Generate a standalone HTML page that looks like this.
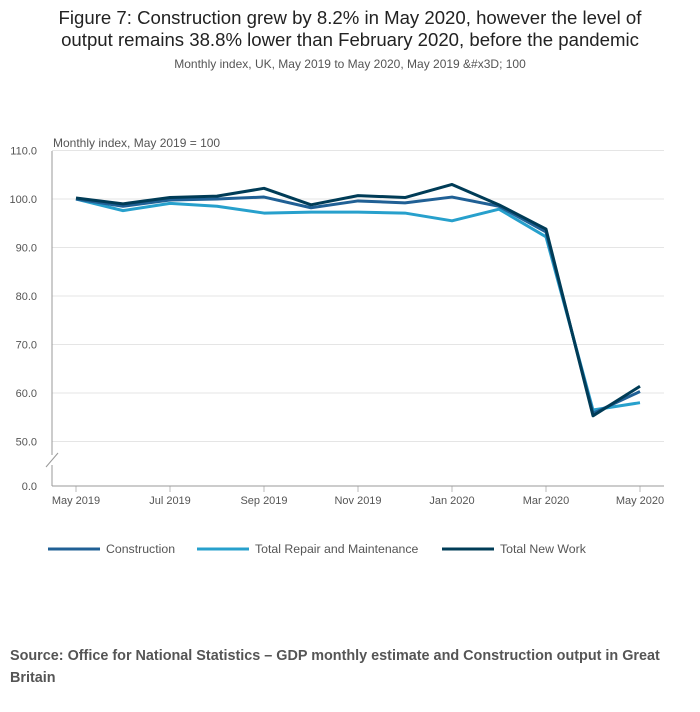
<!DOCTYPE html>
<html><head><meta charset="utf-8">
<style>
body{margin:0;width:700px;height:707px;background:#fff;font-family:"Liberation Sans",sans-serif;overflow:hidden}
</style></head>
<body>
<svg width="700" height="707" xmlns="http://www.w3.org/2000/svg" font-family="Liberation Sans, sans-serif">
<text x="350" y="24" text-anchor="middle" font-size="18.6" fill="#222">Figure 7: Construction grew by 8.2% in May 2020, however the level of</text>
<text x="350" y="46" text-anchor="middle" font-size="18.6" fill="#222">output remains 38.8% lower than February 2020, before the pandemic</text>
<text x="350" y="68" text-anchor="middle" font-size="12" fill="#555">Monthly index, UK, May 2019 to May 2020, May 2019 &amp;#x3D; 100</text>
<text x="53" y="147" font-size="12" fill="#555">Monthly index, May 2019 = 100</text>
<g id="grid"></g>
<g id="lines"></g>
<line x1="52" y1="151" x2="52" y2="486" stroke="#999" stroke-width="1"/>
<rect x="46" y="455" width="12" height="10" fill="#fff"/>
<line x1="46" y1="467" x2="58" y2="453" stroke="#999"/>
<line x1="52" y1="486" x2="664" y2="486" stroke="#999"/>
<g font-size="12.3" fill="#555">
<line x1="48" y1="549" x2="100" y2="549" stroke="#206095" stroke-width="3"/><text x="106" y="553">Construction</text>
<line x1="197" y1="549" x2="249" y2="549" stroke="#27a0cc" stroke-width="3"/><text x="255" y="553">Total Repair and Maintenance</text>
<line x1="442" y1="549" x2="494" y2="549" stroke="#003c57" stroke-width="3"/><text x="500" y="553">Total New Work</text>
</g>
<text x="10" y="660" font-size="14.4" font-weight="bold" fill="#555">Source: Office for National Statistics – GDP monthly estimate and Construction output in Great</text>
<text x="10" y="682" font-size="14.4" font-weight="bold" fill="#555">Britain</text>
</svg>
<script>
const months=["May 2019","Jun","Jul 2019","Aug","Sep 2019","Oct","Nov 2019","Dec","Jan 2020","Feb","Mar 2020","Apr","May 2020"];
const xTickLabels=["May 2019","","Jul 2019","","Sep 2019","","Nov 2019","","Jan 2020","","Mar 2020","","May 2020"];
const yTicks=[50,60,70,80,90,100,110];
const construction=[100,98.5,99.8,100,100.4,98.2,99.6,99.2,100.4,98.5,93.2,55.8,60.3];
const repair=[100,97.6,99.1,98.5,97.1,97.3,97.3,97.1,95.5,97.9,92.2,56.5,58];
const newWork=[100.2,99,100.3,100.6,102.2,98.8,100.7,100.3,103,98.8,93.8,55.3,61.4];
const NS="http://www.w3.org/2000/svg";
const x=i=>76+i*47;
const y=v=>199-(v-100)*4.85;
const grid=document.getElementById('grid'),lines=document.getElementById('lines');
function mk(t,a,p){const e=document.createElementNS(NS,t);for(const k in a)e.setAttribute(k,a[k]);p.appendChild(e);return e;}
yTicks.forEach(v=>{
 const l=mk('line',{x1:52,x2:664,y1:y(v),y2:y(v),stroke:'#e5e5e5'},grid);
 
 
 const t=mk('text',{x:37,y:y(v)+4,'text-anchor':'end','font-size':11,fill:'#555'},grid);
 t.textContent=v.toFixed(1);
 
 
});
const z=mk('text',{x:37,y:490,'text-anchor':'end','font-size':11,fill:'#555'},grid);z.textContent='0.0';


xTickLabels.forEach((s,i)=>{
 if(!s)return;
 const l=mk('line',{x1:x(i),x2:x(i),y1:486,y2:492,stroke:'#bbb'},grid);
 
 
 const t=mk('text',{x:x(i),y:504,'text-anchor':'middle','font-size':11,fill:'#555'},grid);
 t.textContent=s;
 
 
});
[[repair,'#27a0cc','line-repair'],[construction,'#206095','line-construction'],[newWork,'#003c57','line-new-work']].forEach(([d,c,n])=>{
 const p=mk('polyline',{points:d.map((v,i)=>x(i)+','+y(v)).join(' '),fill:'none',stroke:c,'stroke-width':3,'stroke-linejoin':'round'},lines);
 
 
});
</script>
</body></html>
